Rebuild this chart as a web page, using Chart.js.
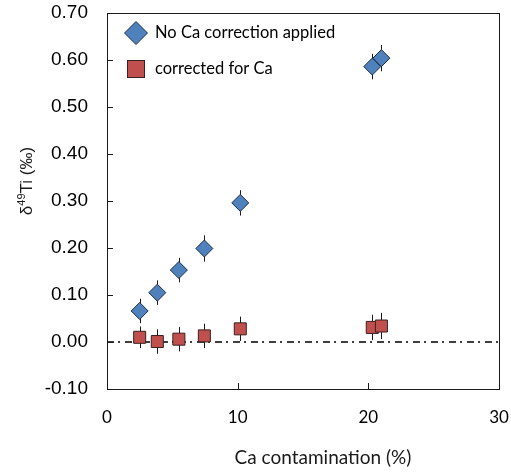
<!DOCTYPE html>
<html>
<head>
<meta charset="utf-8">
<script src="https://cdn.jsdelivr.net/npm/chart.js@4.4.1/dist/chart.umd.min.js"></script>
<style>
  html, body { margin: 0; padding: 0; background: #fff; }
  #wrap { width: 511px; height: 473px; }
</style>
</head>
<body>
<div id="wrap"><canvas id="chart" width="511" height="473"></canvas></div>
<script>
// Ca contamination (%) of each run
const caContamination = [2.5, 3.85, 5.5, 7.45, 10.2, 20.3, 21.0];
// delta49Ti (permil)
const deltaUncorrected = [0.066, 0.105, 0.153, 0.199, 0.296, 0.586, 0.604];
const deltaCorrected = [0.010, 0.001, 0.006, 0.013, 0.028, 0.031, 0.034];
// 2SD error bars
const errUncorrected = [0.026, 0.026, 0.026, 0.028, 0.027, 0.027, 0.028];
const errCorrected = [0.023, 0.026, 0.026, 0.026, 0.026, 0.027, 0.028];

const seriesLabels = ['No Ca correction applied', 'corrected for Ca'];
const referenceLine = [0, 0];
const xRange = [0, 30];
const yRange = [-0.1, 0.7];

const BLUE = '#4f81bd';
const RED = '#c0504d';
const INK = '#1a1a1a';

function toPoints(xs, ys) {
  return xs.map((x, i) => ({ x, y: ys[i] }));
}

// keep the plot box where the layout padding puts it
function noLabelPadding(scale) {
  scale.paddingLeft = 0;
  scale.paddingRight = 0;
  scale.paddingTop = 0;
  scale.paddingBottom = 0;
}

const errorBars = {
  id: 'errorBars',
  beforeDatasetsDraw(chart) {
    const { ctx, scales: { x, y } } = chart;
    ctx.save();
    ctx.strokeStyle = INK;
    ctx.lineWidth = 1;
    chart.data.datasets.forEach(ds => {
      if (!ds.errors) return;
      ds.data.forEach((p, i) => {
        const px = Math.round(x.getPixelForValue(p.x)) + 0.5;
        ctx.beginPath();
        ctx.moveTo(px, y.getPixelForValue(p.y - ds.errors[i]));
        ctx.lineTo(px, y.getPixelForValue(p.y + ds.errors[i]));
        ctx.stroke();
      });
    });
    ctx.restore();
  }
};

const frame = {
  id: 'frame',
  afterDraw(chart) {
    const { ctx, chartArea: a, scales: { x, y } } = chart;
    ctx.save();
    ctx.strokeStyle = INK;
    ctx.lineWidth = 1;
    ctx.strokeRect(Math.round(a.left) + 0.5, Math.round(a.top) + 0.5,
      Math.round(a.right - a.left), Math.round(a.bottom - a.top));
    // inward ticks
    ctx.beginPath();
    y.ticks.forEach(t => {
      const py = Math.round(y.getPixelForValue(t.value)) + 0.5;
      ctx.moveTo(a.left, py);
      ctx.lineTo(a.left + 6, py);
    });
    x.ticks.forEach(t => {
      const px = Math.round(x.getPixelForValue(t.value)) + 0.5;
      ctx.moveTo(px, a.bottom);
      ctx.lineTo(px, a.bottom - 6);
    });
    ctx.stroke();

    // axis titles
    ctx.fillStyle = INK;
    ctx.textBaseline = 'middle';
    ctx.font = '19px Lato';
    ctx.textAlign = 'center';
    ctx.fillText('Ca contamination (%)', 323, 458);

    ctx.save();
    ctx.translate(26, 181);
    ctx.rotate(-Math.PI / 2);
    const big = '17px "Liberation Sans"';
    const small = '11px "Liberation Sans"';
    ctx.font = big;
    const wD = ctx.measureText('\u03b4').width;
    const wT = ctx.measureText('Ti (\u2030)').width;
    ctx.font = small;
    const wS = ctx.measureText('49').width;
    let cx = -(wD + wS + wT) / 2;
    ctx.textAlign = 'left';
    ctx.textBaseline = 'alphabetic';
    ctx.font = big;
    ctx.fillText('\u03b4', cx, 6);
    cx += wD;
    ctx.font = small;
    ctx.fillText('49', cx, -1);
    cx += wS;
    ctx.font = big;
    ctx.fillText('Ti (\u2030)', cx, 6);
    ctx.restore();

    // legend inside the plot
    ctx.font = '16.5px Lato';
    ctx.textAlign = 'left';
    ctx.textBaseline = 'middle';
    const lx = a.left + 29;
    const d = 11.5;
    const ly1 = a.top + 20;
    ctx.beginPath();
    ctx.moveTo(lx, ly1 - d);
    ctx.lineTo(lx + d, ly1);
    ctx.lineTo(lx, ly1 + d);
    ctx.lineTo(lx - d, ly1);
    ctx.closePath();
    ctx.fillStyle = BLUE;
    ctx.fill();
    ctx.strokeStyle = '#1c2f48';
    ctx.stroke();
    ctx.fillStyle = '#000';
    ctx.fillText(seriesLabels[0], a.left + 48, ly1);

    const ly2 = a.top + 56;
    const s = 9;
    ctx.fillStyle = RED;
    ctx.fillRect(lx - s, ly2 - s, 2 * s, 2 * s);
    ctx.strokeStyle = '#3a2020';
    ctx.strokeRect(lx - s + 0.5, ly2 - s + 0.5, 2 * s - 1, 2 * s - 1);
    ctx.fillStyle = '#000';
    ctx.fillText(seriesLabels[1], a.left + 48, ly2);
    ctx.restore();
  }
};

new Chart(document.getElementById('chart'), {
  type: 'scatter',
  data: {
    datasets: [
      {
        label: seriesLabels[0],
        data: toPoints(caContamination, deltaUncorrected),
        errors: errUncorrected,
        pointStyle: 'rectRot',
        pointRadius: 8.5,
        pointHoverRadius: 8.5,
        backgroundColor: BLUE,
        borderColor: '#1c2f48',
        borderWidth: 1,
        order: 1
      },
      {
        label: seriesLabels[1],
        data: toPoints(caContamination, deltaCorrected),
        errors: errCorrected,
        pointStyle: 'rect',
        pointRadius: 8.5,
        pointHoverRadius: 8.5,
        backgroundColor: RED,
        borderColor: '#3a2020',
        borderWidth: 1,
        order: 2
      },
      {
        type: 'line',
        label: 'zero',
        data: toPoints(xRange, referenceLine),
        borderColor: '#000',
        borderWidth: 1.6,
        borderDash: [7, 4, 2, 5],
        pointRadius: 0,
        fill: false,
        order: 3
      }
    ]
  },
  options: {
    responsive: false,
    animation: false,
    devicePixelRatio: 1,
    layout: { padding: { top: 13, right: 12, bottom: 0, left: 0 } },
    plugins: {
      legend: { display: false },
      tooltip: { enabled: false }
    },
    scales: {
      x: {
        type: 'linear',
        min: xRange[0],
        max: xRange[1],
        grid: { display: false, drawTicks: false },
        border: { display: false },
        ticks: {
          stepSize: 10,
          padding: 18,
          color: '#000',
          font: { family: 'Lato', size: 17 },
          maxRotation: 0
        },
        afterFit(scale) {
          scale.height = 84;
          noLabelPadding(scale);
        }
      },
      y: {
        min: yRange[0],
        max: yRange[1],
        grid: { display: false, drawTicks: false },
        border: { display: false },
        ticks: {
          stepSize: 0.1,
          padding: 19,
          color: '#000',
          font: { family: '"Liberation Sans"', size: 19 },
          callback: v => (Math.abs(v) < 1e-9 ? 0 : v).toFixed(2)
        },
        afterFit(scale) {
          scale.width = 107;
          noLabelPadding(scale);
        }
      }
    }
  },
  plugins: [errorBars, frame]
});
</script>
</body>
</html>
